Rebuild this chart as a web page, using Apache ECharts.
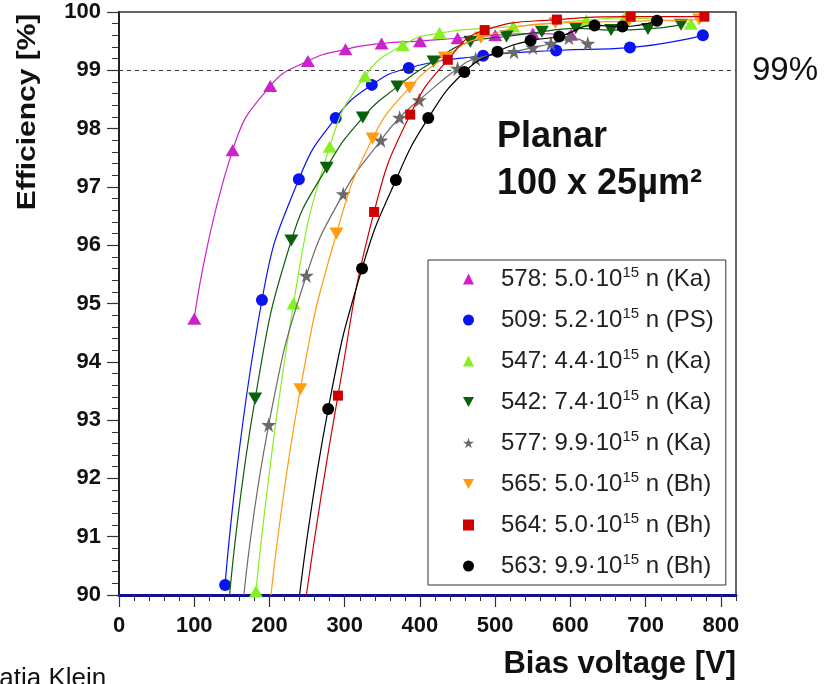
<!DOCTYPE html>
<html>
<head>
<meta charset="utf-8">
<script src="https://cdn.jsdelivr.net/npm/echarts@6/dist/echarts.min.js"></script>
<style>
  html, body { margin: 0; padding: 0; background: #fff; }
  #chart { width: 825px; height: 684px; }
</style>
</head>
<body>
<div id="chart"></div>
<script>
// sample ids, fluence and irradiation site (legend text)
const sampleIds = ['578', '509', '547', '542', '577', '565', '564', '563'];
const fluences = ['5.0', '5.2', '4.4', '7.4', '9.9', '5.0', '5.0', '9.9'];
const sites = ['Ka', 'PS', 'Ka', 'Ka', 'Ka', 'Bh', 'Bh', 'Bh'];

// bias voltage [V] and efficiency [%] per sample
const volt578 = [100, 151, 201, 251, 301, 349, 400, 450, 500, 550, 601];
const eff578 = [94.74, 97.63, 98.73, 99.16, 99.36, 99.46, 99.50, 99.55, 99.60, 99.63, 99.61];

const volt509 = [141, 190, 239, 288, 336, 385, 484, 581, 679, 776];
const eff509 = [90.17, 95.06, 97.13, 98.18, 98.75, 99.04, 99.25, 99.34, 99.39, 99.60];

const volt547 = [182, 232, 280, 327, 377, 426, 524, 621, 672, 760];
const eff547 = [90.06, 95.00, 97.69, 98.90, 99.43, 99.64, 99.75, 99.86, 99.90, 99.80];

const volt542 = [181, 229, 276, 324, 370, 418, 467, 515, 562, 607, 654, 703, 747];
const eff542 = [93.37, 96.08, 97.33, 98.19, 98.72, 99.15, 99.49, 99.58, 99.66, 99.72, 99.69, 99.71, 99.78];

const volt577 = [199, 249, 298, 348, 373, 399, 450, 474, 525, 550, 574, 598, 623];
const eff577 = [92.92, 95.48, 96.88, 97.80, 98.19, 98.49, 99.03, 99.20, 99.32, 99.39, 99.46, 99.56, 99.46];

const volt565 = [241, 289, 337, 386, 433, 481, 580, 677, 771];
const eff565 = [93.53, 96.20, 97.83, 98.70, 99.22, 99.56, 99.81, 99.84, 99.87];

const volt564 = [291, 339, 387, 437, 486, 582, 680, 778];
const eff564 = [93.42, 96.57, 98.24, 99.18, 99.69, 99.87, 99.92, 99.92];

const volt563 = [278, 323, 368, 411, 459, 503, 547, 585, 632, 669, 715];
const eff563 = [93.19, 95.60, 97.12, 98.18, 98.97, 99.32, 99.51, 99.58, 99.77, 99.75, 99.85];

// voltage where the fit curve leaves the 90% floor (null = curve starts at first point)
const curveStartV = [null, null, null, 147, 166, 202, 249, 240];

const xTicks = { min: 0, max: 820, major: 100, minor: 20 };
const yTicks = { min: 90, max: 100, major: 1 };
const threshold = 99;

const volts = [volt578, volt509, volt547, volt542, volt577, volt565, volt564, volt563];
const effs = [eff578, eff509, eff547, eff542, eff577, eff565, eff564, eff563];

const colors = ['#cc22cc', '#0a14f0', '#86f020', '#0b600b', '#6a6a6a', '#ff9c12', '#d00000', '#000000'];
const downTri = 'path://M0,0L10,0L5,9Z';
const star = 'path://M50,0L61,35L98,35L68,57L79,91L50,70L21,91L32,57L2,35L39,35Z';
const symbols = ['triangle', 'circle', 'triangle', downTri, star, downTri, 'rect', 'circle'];
const symSizes = [[14, 12], 12, [14, 12], [14, 12], 15, [14, 12], 10, 12];

const chart = echarts.init(document.getElementById('chart'));

const series = sampleIds.map((id, i) => {
  const pts = volts[i].map((v, k) => [v, effs[i][k]]);
  if (curveStartV[i] != null) {
    pts.unshift({ value: [curveStartV[i], yTicks.min], symbol: 'none' });
  }
  return {
    name: id,
    type: 'line',
    data: pts,
    smooth: 0.5,
    symbol: symbols[i],
    symbolSize: symSizes[i],
    showAllSymbol: true,
    itemStyle: { color: colors[i] },
    lineStyle: { color: colors[i], width: 1.2 },
    emphasis: { disabled: true },
    z: 3 + i
  };
});

// dashed 99% reference line
series.push({
  type: 'line',
  data: [],
  markLine: {
    silent: true,
    symbol: 'none',
    label: { show: false },
    lineStyle: { color: '#333', type: [4, 4], width: 1 },
    data: [{ yAxis: threshold }]
  }
});

const fontFam = '"Liberation Sans", Arial, sans-serif';
const labelFont = { fontFamily: fontFam, fontWeight: 'bold', fontSize: 22, color: '#111' };

chart.setOption({
  backgroundColor: '#fff',
  animation: false,
  grid: {
    left: 119, right: 89, top: 12, bottom: 89,
    show: true, borderColor: '#333', borderWidth: 1.5, backgroundColor: 'transparent'
  },
  xAxis: [{
    type: 'value',
    min: xTicks.min, max: xTicks.max, interval: xTicks.major,
    axisLine: { lineStyle: { color: '#101095', width: 3 } },
    axisTick: { length: 12, lineStyle: { color: '#333', width: 1.2 } },
    axisLabel: Object.assign({ margin: 20, showMaxLabel: false }, labelFont),
    splitLine: { show: false }
  }, {
    type: 'value',
    position: 'bottom',
    min: xTicks.min, max: xTicks.max, interval: xTicks.minor,
    axisLine: { show: false },
    axisTick: { length: 6, lineStyle: { color: '#333', width: 1 } },
    axisLabel: { show: false },
    splitLine: { show: false }
  }],
  yAxis: {
    type: 'value',
    min: yTicks.min, max: yTicks.max, interval: yTicks.major,
    axisLine: { show: true, lineStyle: { color: '#222', width: 2 } },
    axisTick: { length: 12, lineStyle: { color: '#333', width: 1.2 } },
    minorTick: { show: true, splitNumber: 5, length: 7, lineStyle: { color: '#333', width: 1 } },
    axisLabel: Object.assign({ margin: 18 }, labelFont),
    splitLine: { show: false }
  },
  legend: {
    orient: 'vertical',
    left: 428, top: 260,
    selectedMode: false,
    backgroundColor: '#fff',
    borderColor: '#333', borderWidth: 1,
    padding: [5, 12, 5, 35],
    itemWidth: 11, itemHeight: 11, itemGap: 13,
    data: sampleIds.map((id, i) => ({ name: id, icon: symbols[i], itemStyle: { color: colors[i] } })),
    formatter: name => {
      const i = sampleIds.indexOf(name);
      return `${name}: ${fluences[i]}\u00b710{sup|15} n (${sites[i]})`;
    },
    textStyle: {
      fontFamily: fontFam,
      fontSize: 24, color: '#222', lineHeight: 28,
      padding: [0, 0, 0, 22],
      rich: { sup: { fontSize: 15, lineHeight: 15, verticalAlign: 'top', color: '#222', fontFamily: fontFam } }
    }
  },
  graphic: [{
    type: 'text', x: 28, y: 112, rotation: Math.PI / 2,
    style: { text: 'Efficiency [%]', fill: '#111', font: 'bold 25px ' + fontFam, textAlign: 'center', textVerticalAlign: 'middle' },
    scaleX: 1.2
  }, {
    type: 'text', x: 736, y: 664,
    style: { text: 'Bias voltage [V]', fill: '#111', font: 'bold 31px ' + fontFam, textAlign: 'right', textVerticalAlign: 'middle' }
  }, {
    type: 'text', x: 752, y: 71,
    style: { text: '99%', fill: '#111', font: '33px ' + fontFam, textAlign: 'left', textVerticalAlign: 'middle' }
  }, {
    type: 'text', x: 497, y: 137,
    style: { text: 'Planar', fill: '#111', font: 'bold 36px ' + fontFam, textAlign: 'left', textVerticalAlign: 'middle' }
  }, {
    type: 'text', x: 497, y: 184,
    style: { text: '100 x 25\u00b5m\u00b2', fill: '#111', font: 'bold 36px ' + fontFam, textAlign: 'left', textVerticalAlign: 'middle' }
  }, {
    type: 'text', x: -18, y: 692,
    style: { text: 'Katia Klein', fill: '#111', font: '26px ' + fontFam, textAlign: 'left', textVerticalAlign: 'bottom' }
  }],
  series: series
});
</script>
</body>
</html>
